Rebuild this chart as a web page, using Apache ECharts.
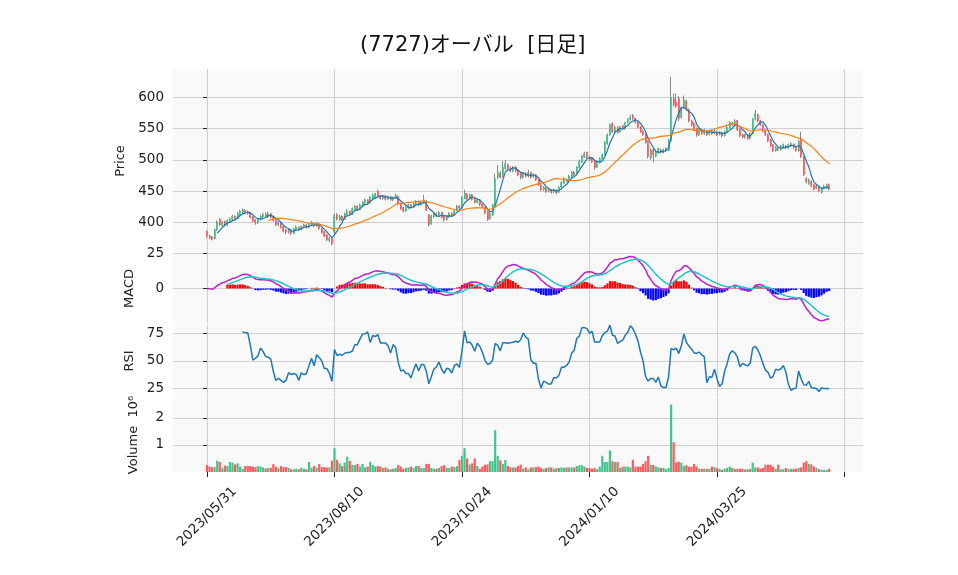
<!DOCTYPE html>
<html>
<head>
<meta charset="utf-8">
<title>(7727)オーバル [日足]</title>
<script src="https://cdn.jsdelivr.net/npm/echarts@6/dist/echarts.min.js"></script>
<style>
  html, body { margin: 0; padding: 0; background: #fff; }
  #chart { width: 958px; height: 575px; }
</style>
</head>
<body>
<div id="chart"></div>
<script>
// 日足 (2023/05/31 - ) チャートから読み取った概算値
var opens = [
  385,378,376,374,388,405,395,401,395,401, 404,410,406,412,416,419,417,415,409,404,
  399,405,409,413,409,414,409,404,396,400, 393,388,384,388,382,389,392,388,393,396,
  392,396,399,394,398,390,385,380,371,374, 384,412,404,410,405,412,418,413,420,426,
  420,427,431,436,431,438,438,450,443,438, 442,437,441,436,440,442,430,424,418,423,
  428,424,430,434,428,431,434,412,398,409, 414,411,416,410,404,409,414,412,419,426,
  424,438,445,438,444,438,432,436,429,424, 418,406,412,428,472,478,474,486,492,486,
  482,488,484,478,472,478,474,480,473,476, 468,460,452,455,450,452,449,451,448,456,
  462,468,466,472,480,478,487,496,504,512, 504,503,498,488,495,502,508,526,540,558,
  546,552,545,555,550,560,565,571,566,561, 553,546,541,530,503,516,506,512,516,512,
  514,515,530,598,592,598,568,584,594,580, 562,558,550,540,548,542,546,541,546,543,
  545,541,544,539,544,550,558,556,563,549, 540,536,540,534,542,565,572,562,556,546,
  541,532,524,515,518,516,520,522,519,522, 525,521,514,535,505,470,462,465,460,455,
  456,448,455,456,460
];
var highs = [
  387,380,378,390,403,407,402,403,405,408, 412,411,416,420,422,421,419,416,410,405,
  407,412,415,416,417,415,410,405,402,401, 394,389,390,389,391,395,393,395,398,397,
  399,402,400,401,399,391,386,381,377,375, 414,415,412,411,416,421,419,424,428,427,
  430,434,438,437,442,446,447,452,444,444, 443,443,442,441,446,443,431,425,426,430,
  429,432,436,435,434,444,435,413,412,416, 416,418,417,411,412,416,416,421,428,428,
  442,452,447,446,445,440,438,437,430,425, 419,416,430,478,492,482,498,500,494,489,
  490,490,485,479,480,480,484,481,478,477, 469,461,458,456,455,453,454,453,458,466,
  472,470,476,482,482,490,500,508,513,513, 506,504,499,498,504,510,530,542,558,560,
  555,554,546,556,552,562,572,573,567,562, 554,547,542,531,518,517,514,520,518,518,
  520,534,633,606,606,602,584,603,596,582, 564,560,552,552,550,550,548,548,548,548,
  547,546,545,547,554,562,561,565,564,550, 542,542,541,544,567,580,574,564,557,548,
  542,533,525,522,520,524,526,524,526,528, 526,522,532,545,506,472,470,467,461,460,
  458,456,460,462,462
];
var lows = [
  375,373,371,373,386,394,392,393,394,399, 402,404,405,410,414,414,412,406,400,396,
  397,403,407,408,407,406,401,394,394,390, 384,381,382,380,381,387,386,387,391,390,
  391,394,392,393,388,382,376,370,368,363, 380,403,402,402,404,411,411,412,419,418,
  419,425,429,428,430,437,437,440,436,436, 435,436,434,434,438,428,420,416,417,421,
  422,423,428,426,427,430,418,393,396,407, 409,410,406,401,403,407,409,411,418,421,
  423,437,436,437,435,430,430,426,422,413, 402,404,410,426,469,470,472,484,484,480,
  480,480,474,469,470,472,472,470,471,466, 458,450,450,447,448,446,447,445,447,455,
  461,464,465,471,474,477,486,495,503,502, 498,495,484,487,494,500,507,524,538,543,
  544,542,543,548,548,558,563,564,558,550, 543,538,526,502,500,496,504,510,510,510,
  512,514,528,585,583,562,566,582,578,560, 553,546,537,538,540,540,538,539,540,541,
  538,539,536,537,543,549,554,555,546,536, 534,534,532,533,541,563,560,554,544,538,
  528,520,512,513,514,515,518,517,518,521, 518,513,513,503,474,462,460,456,451,453,
  448,446,453,454,451
];
var closes = [
  378,375,373,388,401,396,400,395,403,405, 410,406,414,418,420,416,414,408,402,399,
  406,410,413,410,414,408,403,396,400,392, 386,384,388,382,390,393,388,394,396,392,
  397,399,394,399,390,384,378,372,375,366, 411,405,410,404,414,418,413,422,426,420,
  428,432,436,430,440,444,446,442,438,442, 437,441,436,440,443,430,422,418,424,428,
  424,430,434,428,432,436,420,396,410,414, 411,416,408,404,410,414,411,419,426,423,
  440,446,438,444,437,432,436,428,424,415, 405,414,428,470,480,472,488,494,486,482,
  488,482,476,472,478,474,480,472,476,468, 460,452,456,449,453,448,452,447,456,464,
  470,465,474,480,476,488,498,506,510,504, 500,497,488,496,502,508,528,540,556,545,
  552,544,554,550,560,566,568,566,560,552, 545,540,528,505,516,508,512,518,512,516,
  518,532,600,588,586,566,580,596,580,562, 556,548,540,550,542,548,540,546,542,546,
  540,544,538,545,552,560,556,562,548,538, 536,540,534,542,565,574,562,556,546,540,
  530,522,514,520,516,522,524,519,524,526, 520,515,530,505,476,465,468,458,453,458,
  450,454,458,460,453
];
// 出来高 (単位: 10^6)
var volumes = [
  .26,.20,.18,.18,.42,.37,.14,.24,.22,.37, .35,.28,.32,.20,.12,.22,.22,.22,.20,.18,
  .22,.20,.17,.13,.15,.15,.29,.20,.14,.22, .18,.18,.15,.10,.10,.12,.10,.16,.12,.10,
  .37,.16,.22,.15,.29,.18,.18,.16,.17,.42, .88,.45,.32,.22,.35,.57,.41,.26,.26,.30,
  .20,.30,.17,.20,.38,.26,.20,.22,.20,.15, .17,.12,.10,.12,.15,.26,.20,.12,.15,.17,
  .20,.15,.22,.22,.15,.15,.30,.30,.15,.12, .12,.15,.22,.25,.15,.15,.20,.18,.22,.45,
  .60,.88,.50,.28,.32,.50,.22,.12,.20,.27, .28,.40,.40,1.55,.60,.43,.30,.44,.22,.17,
  .17,.17,.22,.27,.12,.17,.10,.17,.17,.18, .20,.15,.12,.15,.17,.17,.12,.14,.15,.17,
  .16,.17,.17,.17,.17,.22,.25,.25,.20,.15, .15,.12,.15,.10,.20,.60,.37,.37,.80,.40,
  .37,.37,.15,.20,.20,.20,.17,.45,.20,.20, .20,.30,.40,.60,.26,.26,.20,.17,.15,.15,
  .10,.15,2.50,1.10,.35,.38,.35,.22,.25,.20, .20,.30,.20,.12,.12,.12,.12,.12,.20,.18,
  .15,.12,.08,.12,.15,.20,.15,.12,.12,.12, .12,.10,.10,.12,.35,.17,.17,.12,.15,.27,
  .27,.27,.20,.12,.27,.10,.10,.15,.10,.12, .12,.12,.15,.17,.35,.40,.30,.28,.20,.15,
  .10,.08,.08,.08,.12
];
var tickIndex = [0, 50, 100, 150, 200];
var tickLabels = ['2023/05/31', '2023/08/10', '2023/10/24', '2024/01/10', '2024/03/25'];
var xTicks = [0, 50, 100, 150, 200, 250];
var priceTicks = [400, 450, 500, 550, 600];
var macdTicks = [0, 25];
var rsiTicks = [25, 50, 75];
var volTicks = [1, 2];

var upColor = '#42c48a';
var downColor = '#ff5a5e';
var wickColor = '#8a8a8a';
var gridColor = '#d0d0d0';
var font = '"DejaVu Sans", "Noto Sans CJK JP", sans-serif';

// --- テクニカル指標 ---
function sma(src, n) {
  var out = [];
  for (var i = 0; i < src.length; i++) {
    if (i < n - 1) { out.push(null); continue; }
    var s = 0;
    for (var j = i - n + 1; j <= i; j++) s += src[j];
    out.push(s / n);
  }
  return out;
}
function ema(src, n) {
  var k = 2 / (n + 1), out = [], prev = src[0];
  for (var i = 0; i < src.length; i++) {
    prev = i === 0 ? src[0] : src[i] * k + prev * (1 - k);
    out.push(prev);
  }
  return out;
}
function rsi(src, n) {
  var out = [];
  for (var i = 0; i < src.length; i++) {
    if (i < n) { out.push(null); continue; }
    var g = 0, l = 0;
    for (var j = i - n + 1; j <= i; j++) {
      var d = src[j] - src[j - 1];
      if (d > 0) g += d; else l -= d;
    }
    out.push(l === 0 ? 100 : 100 - 100 / (1 + g / l));
  }
  return out;
}
function pts(arr, from) {
  var out = [];
  for (var i = from || 0; i < arr.length; i++) {
    if (arr[i] != null) out.push([i, arr[i]]);
  }
  return out;
}

var ma5 = sma(closes, 5);
var ma25 = sma(closes, 25);
var ema12 = ema(closes, 12);
var ema26 = ema(closes, 26);
var macd = ema12.map(function (v, i) { return v - ema26[i]; });
var signal = ema(macd, 9);
var rsi14 = rsi(closes, 14);

var wickData = [], bodyData = [], volData = [], histData = [];
for (var i = 0; i < closes.length; i++) {
  var o = opens[i], c = closes[i];
  wickData.push([i, o, c, lows[i], highs[i]]);
  bodyData.push([i, o, c, Math.min(o, c), Math.max(o, c)]);
  volData.push({ value: [i, volumes[i]], itemStyle: { color: c >= o ? upColor : downColor } });
  if (i >= 8) {
    var h = macd[i] - signal[i];
    histData.push({ value: [i, h], itemStyle: { color: h >= 0 ? '#ff0000' : '#0000ff' } });
  }
}

// --- レイアウト ---
var panels = [
  { top: 69, height: 184 },
  { top: 253, height: 71 },
  { top: 325, height: 72 },
  { top: 398, height: 74 }
];

function xAxisFor(idx, last) {
  return {
    type: 'value', gridIndex: idx, min: -13.33, max: 257.25,
    axisLine: { show: false },
    axisTick: { show: last, customValues: xTicks, length: 5, lineStyle: { color: '#222' } },
    axisLabel: {
      show: last, customValues: tickIndex, rotate: 45, align: 'center', verticalAlign: 'middle',
      margin: 45, fontSize: 13.5, color: '#222', fontFamily: font,
      formatter: function (v) { return tickLabels[tickIndex.indexOf(v)]; }
    },
    splitLine: { show: true, lineStyle: { color: gridColor, width: 1 } }
  };
}
function yAxisFor(idx, min, max, ticks, name, gap) {
  return {
    type: 'value', gridIndex: idx, min: min, max: max,
    name: name, nameLocation: 'middle', nameGap: gap, nameRotate: 90,
    nameTextStyle: { fontSize: 13, color: '#222', fontFamily: font },
    axisLine: { show: false },
    axisTick: { show: true, customValues: ticks, length: 4, lineStyle: { color: '#222' } },
    axisLabel: { customValues: ticks, margin: 9, fontSize: 13.5, color: '#222', fontFamily: font },
    splitLine: { show: true, lineStyle: { color: gridColor, width: 1 } }
  };
}

var option = {
  animation: false,
  backgroundColor: '#fff',
  title: {
    text: '(7727)オーバル  [日足]', left: 355, top: 30,
    textStyle: { fontSize: 21, fontWeight: 'normal', color: '#111', fontFamily: font }
  },
  grid: panels.map(function (p) {
    return {
      left: 173, width: 690, top: p.top, height: p.height,
      show: true, backgroundColor: '#f9f9f9', borderWidth: 0
    };
  }),
  xAxis: [xAxisFor(0, false), xAxisFor(1, false), xAxisFor(2, false), xAxisFor(3, true)],
  yAxis: [
    yAxisFor(0, 350.9, 645.3, priceTicks, 'Price', 40),
    yAxisFor(1, -25, 25, macdTicks, 'MACD', 33),
    yAxisFor(2, 17.4, 82.4, rsiTicks, 'RSI', 33),
    yAxisFor(3, 0, 2.74, volTicks, 'Volume  10⁶', 33)
  ],
  series: [
    {
      // ヒゲ (灰色)
      type: 'candlestick', xAxisIndex: 0, yAxisIndex: 0, barWidth: 0.1, data: wickData,
      itemStyle: { color: wickColor, color0: wickColor, borderColor: wickColor, borderColor0: wickColor, borderWidth: 1 }
    },
    {
      // 実体
      type: 'candlestick', xAxisIndex: 0, yAxisIndex: 0, barWidth: 1.5, data: bodyData,
      itemStyle: { color: upColor, color0: downColor, borderColor: upColor, borderColor0: downColor, borderWidth: 0.7 }
    },
    {
      type: 'line', xAxisIndex: 0, yAxisIndex: 0, data: pts(ma5), showSymbol: false,
      lineStyle: { color: '#1f77b4', width: 1.2 }
    },
    {
      type: 'line', xAxisIndex: 0, yAxisIndex: 0, data: pts(ma25), showSymbol: false,
      lineStyle: { color: '#ff7f0e', width: 1.2 }
    },
    {
      type: 'bar', xAxisIndex: 1, yAxisIndex: 1, barWidth: 2.2, data: histData
    },
    {
      type: 'line', xAxisIndex: 1, yAxisIndex: 1, data: pts(macd), showSymbol: false,
      lineStyle: { color: '#c01ec8', width: 1.5 }
    },
    {
      type: 'line', xAxisIndex: 1, yAxisIndex: 1, data: pts(signal, 8), showSymbol: false,
      lineStyle: { color: '#1ec4c8', width: 1.5 }
    },
    {
      type: 'line', xAxisIndex: 2, yAxisIndex: 2, data: pts(rsi14), showSymbol: false,
      lineStyle: { color: '#1f77b4', width: 1.5 }
    },
    {
      type: 'bar', xAxisIndex: 3, yAxisIndex: 3, barWidth: 2.2, data: volData
    }
  ]
};

var chart = echarts.init(document.getElementById('chart'), null, { renderer: 'canvas' });
chart.setOption(option);
</script>
</body>
</html>
